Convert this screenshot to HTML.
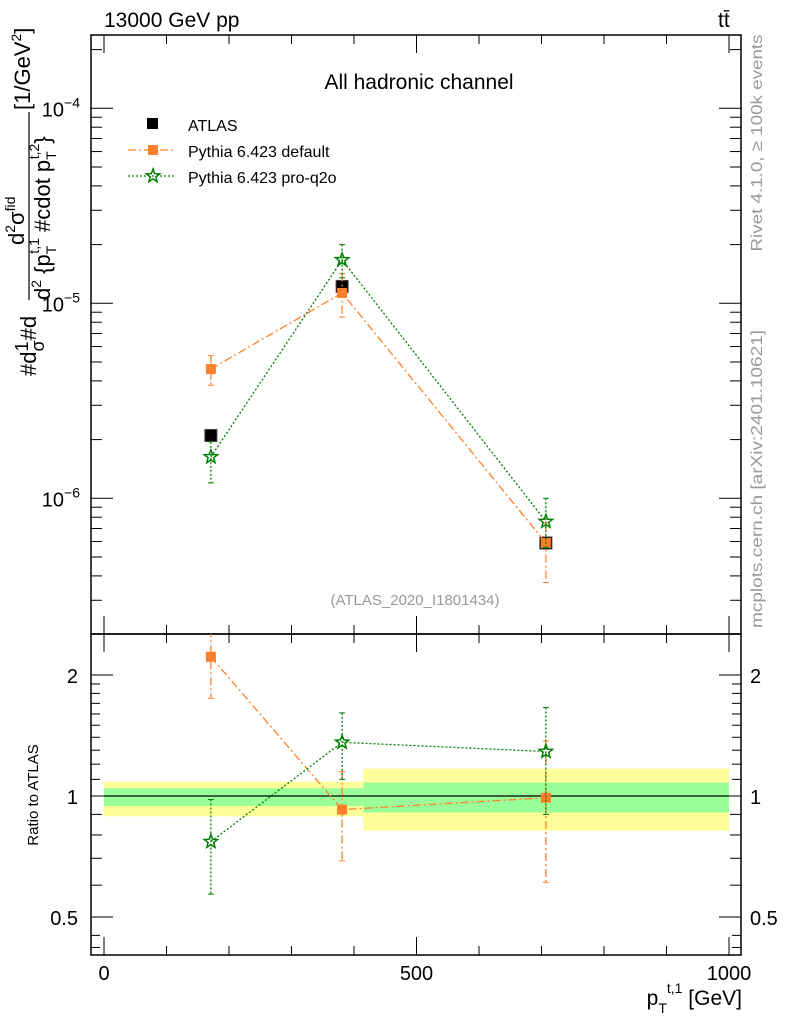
<!DOCTYPE html>
<html><head><meta charset="utf-8"><style>
body{margin:0;background:#fff;}
svg{display:block;font-family:"Liberation Sans",sans-serif;}
</style></head><body>
<svg id="chart" width="786" height="1024" viewBox="0 0 786 1024" xmlns="http://www.w3.org/2000/svg">
<g id="layer"></g>
</svg>
<script>
// ---- data ----
const xCenters = [171, 381, 707];
const binEdges = [0, 415, 1000];
const atlasVals = [2.1e-6, 1.22e-5, 5.9e-7];
const defVals = [4.6e-6, 1.13e-5, 5.9e-7];
const defErrHi = [5.4e-6, 1.42e-5, 7.5e-7];
const defErrLo = [3.8e-6, 8.5e-6, 3.7e-7];
const proVals = [1.63e-6, 1.67e-5, 7.6e-7];
const proErrHi = [1.95e-6, 2.0e-5, 1.0e-6];
const proErrLo = [1.2e-6, 1.35e-5, 5.6e-7];
const defRatio = [2.22, 0.925, 0.99];
const defRatioHi = [2.6, 1.15, 1.37];
const defRatioLo = [1.75, 0.69, 0.61];
const proRatio = [0.77, 1.36, 1.29];
const proRatioHi = [0.98, 1.61, 1.66];
const proRatioLo = [0.57, 1.1, 0.9];
const bandInnerHi = [1.045, 1.08];
const bandInnerLo = [0.945, 0.91];
const bandOuterHi = [1.085, 1.17];
const bandOuterLo = [0.89, 0.82];
const xTicks = [0, 500, 1000];
const yMainTicks = [-4, -5, -6];
const yRatioTicks = [2, 1, 0.5];

// ---- axes ----
const L=91, R=741, T=35, MB=634, RB=955;
const xs = v => 104 + v*0.625;
const ys = v => 303.3 - (Math.log10(v)+5)*195;
const yr = v => 796 - Math.log2(v)*121;

const NS="http://www.w3.org/2000/svg";
const g=document.getElementById('layer');
function el(tag, attrs, parent){const e=document.createElementNS(NS,tag);for(const k in attrs)e.setAttribute(k,attrs[k]);(parent||g).appendChild(e);return e;}
function txt(s, attrs){const e=el('text',attrs);e.textContent=s;return e;}

const defs=el('defs',{});
const c1=el('clipPath',{id:'cm'},defs);el('rect',{x:L,y:T,width:R-L,height:MB-T},c1);
const c2=el('clipPath',{id:'cr'},defs);el('rect',{x:L,y:MB,width:R-L,height:RB-MB},c2);

for(let i=0;i<2;i++){
  const b=el('rect',{x:xs(binEdges[i]),y:yr(bandOuterHi[i]),width:xs(binEdges[i+1])-xs(binEdges[i]),height:yr(bandOuterLo[i])-yr(bandOuterHi[i]),fill:'#ffff99'});
  
  
  const b2=el('rect',{x:xs(binEdges[i]),y:yr(bandInnerHi[i]),width:xs(binEdges[i+1])-xs(binEdges[i]),height:yr(bandInnerLo[i])-yr(bandInnerHi[i]),fill:'#99ff99'});
  
  
}
el('line',{x1:xs(0),x2:xs(1000),y1:yr(1),y2:yr(1),stroke:'#000','stroke-width':1.2});

for(const [t,b,n] of [[T,MB,'main-frame'],[MB,RB,'ratio-frame']]){
  const f=el('rect',{x:L,y:t,width:R-L,height:b-t,fill:'none',stroke:'#000','stroke-width':1.5});
  
  
}
for(let v=0;v<=1000;v+=100){
  const big=v%500===0, len=big?18:9;
  for(const [t,b] of [[T,MB],[MB,RB]]){
    el('line',{x1:xs(v),x2:xs(v),y1:b,y2:b-len,stroke:'#000'});
    el('line',{x1:xs(v),x2:xs(v),y1:t,y2:t+len,stroke:'#000'});
  }
}
xTicks.forEach(v=>{const t=txt(String(v),{x:xs(v),y:980,'font-size':20,'text-anchor':'middle'});
  
  });
for(let d=-7;d<=-3;d++){
  for(let m=1;m<=9;m++){
    const v=m*Math.pow(10,d), y=ys(v);
    if(y<T||y>MB)continue;
    const len=m===1?22:11;
    el('line',{x1:L,x2:L+len,y1:y,y2:y,stroke:'#000'});
    el('line',{x1:R,x2:R-len,y1:y,y2:y,stroke:'#000'});
  }
}
yMainTicks.forEach(d=>{
  const t=el('text',{x:80,y:ys(Math.pow(10,d))+8,'font-size':20,'text-anchor':'end'});
  
  
  t.innerHTML='10<tspan dy="-9" font-size="14">−'+(-d)+'</tspan>';
});
[0.5,0.6,0.7,0.8,0.9,1,2].forEach(v=>{const len=(v===1||v===2||v===0.5)?22:11;
  el('line',{x1:L,x2:L+len,y1:yr(v),y2:yr(v),stroke:'#000'});
  el('line',{x1:R,x2:R-len,y1:yr(v),y2:yr(v),stroke:'#000'});});
[1.1,1.2,1.3,1.4,1.5,1.6,1.7,1.8,1.9,0.45,0.42].forEach(v=>{
  el('line',{x1:L,x2:L+9,y1:yr(v),y2:yr(v),stroke:'#000'});
  el('line',{x1:R,x2:R-9,y1:yr(v),y2:yr(v),stroke:'#000'});});
yRatioTicks.forEach(v=>{
  const a=txt(String(v),{x:78,y:yr(v)+8,'font-size':20,'text-anchor':'end'});
  
  
  const b=txt(String(v),{x:750,y:yr(v)+8,'font-size':20});
  
  
});

function series(vals,hi,lo,ysc,color,dash,marker,clip,name){
  const grp=el('g',{'clip-path':'url(#'+clip+')'});
  
  
  const pts=vals.map((v,i)=>xs(xCenters[i])+','+ysc(v)).join(' ');
  el('polyline',{points:pts,fill:'none',stroke:color,'stroke-width':1.3,'stroke-dasharray':dash},grp);
  vals.forEach((v,i)=>{
    const x=xs(xCenters[i]);
    if(hi){el('line',{x1:x,x2:x,y1:ysc(hi[i]),y2:ysc(lo[i]),stroke:color,'stroke-width':1.3,'stroke-dasharray':dash},grp);
      el('line',{x1:x-3,x2:x+3,y1:ysc(hi[i]),y2:ysc(hi[i]),stroke:color},grp);
      el('line',{x1:x-3,x2:x+3,y1:ysc(lo[i]),y2:ysc(lo[i]),stroke:color},grp);}
    const y=ysc(v);
    if(marker==='sq') el('rect',{x:x-5,y:y-5,width:10,height:10,fill:color},grp);
    else el('polygon',{points:star(x,y,7),fill:'none',stroke:color,'stroke-width':1.5},grp);
  });
}
function star(cx,cy,r){let p=[];for(let k=0;k<10;k++){const a=-Math.PI/2+k*Math.PI/5,rr=k%2?r*0.42:r;p.push((cx+rr*Math.cos(a)).toFixed(1)+','+(cy+rr*Math.sin(a)).toFixed(1));}return p.join(' ');}

(function(){const grp=el('g',{});
  atlasVals.forEach((v,i)=>{el('rect',{x:xs(xCenters[i])-6,y:ys(v)-6,width:12,height:12,fill:'#000',stroke:'#444'},grp);});})();
series(defVals,defErrHi,defErrLo,ys,'#ff7f2a','8,3,2,3','sq','cm','default-series');
series(proVals,proErrHi,proErrLo,ys,'#008000','2,2','star','cm','pro-q2o-series');
series(defRatio,defRatioHi,defRatioLo,yr,'#ff7f2a','8,3,2,3','sq','cr','default-ratio-series');
series(proRatio,proRatioHi,proRatioLo,yr,'#008000','2,2','star','cr','pro-q2o-ratio-series');

function T2(s,a,n){const t=txt(s,a);return t;}
T2('13000 GeV pp',{x:104,y:27,'font-size':21},'beam-label');
T2('tt̄',{x:718,y:27,'font-size':21},'process-label');
T2('All hadronic channel',{x:419,y:89,'font-size':21,'text-anchor':'middle'},'channel-title');
T2('(ATLAS_2020_I1801434)',{x:415,y:605,'font-size':15,'text-anchor':'middle',fill:'#999'},'analysis-id');
el('rect',{x:147,y:118,width:11,height:11,fill:'#000'});
T2('ATLAS',{x:188,y:131,'font-size':16},'legend-atlas');
el('line',{x1:128,x2:175,y1:150,y2:150,stroke:'#ff7f2a','stroke-width':1.3,'stroke-dasharray':'8,3,2,3'});
el('rect',{x:148,y:145,width:10,height:10,fill:'#ff7f2a'});
T2('Pythia 6.423 default',{x:188,y:157,'font-size':16},'legend-default');
el('line',{x1:128,x2:175,y1:176,y2:176,stroke:'#008000','stroke-width':1.3,'stroke-dasharray':'2,2'});
el('polygon',{points:star(153,176,7),fill:'none',stroke:'#008000','stroke-width':1.5});
T2('Pythia 6.423 pro-q2o',{x:188,y:183,'font-size':16},'legend-pro-q2o');
const xt=el('text',{x:742,y:1005,'font-size':21,'text-anchor':'end'});

xt.innerHTML='p<tspan dy="8" font-size="14">T</tspan><tspan dy="-20" font-size="14">t,1</tspan><tspan dy="12"> [GeV]</tspan>';
T2('Ratio to ATLAS',{x:0,y:0,'font-size':15,'text-anchor':'middle',transform:'translate(38,795) rotate(-90)'},'ratio-y-title');
// main y title: stacked fraction look
const yg=el('g',{transform:'translate(0,0)'});

const yt1=el('text',{x:0,y:0,'font-size':22,transform:'translate(36,376) rotate(-90)'},yg);
yt1.innerHTML='#d<tspan font-size="18" dy="-8">1</tspan><tspan font-size="18" dx="-10" dy="16">σ</tspan><tspan dy="-8">#d</tspan>';
el('line',{x1:29,x2:29,y1:300,y2:112,stroke:'#000','stroke-width':1.2},yg);
const yt2=el('text',{x:0,y:0,'font-size':22,transform:'translate(24,245) rotate(-90)'},yg);
yt2.innerHTML='d<tspan font-size="14" dy="-9">2</tspan><tspan dy="9">σ</tspan><tspan font-size="14" dy="-9">fid</tspan>';
const yt3=el('text',{x:0,y:0,'font-size':22,transform:'translate(50,300) rotate(-90)'},yg);
yt3.innerHTML='d<tspan font-size="14" dy="-9">2</tspan><tspan dy="9"> {p</tspan><tspan font-size="14" dy="6">T</tspan><tspan font-size="14" dx="-8" dy="-17">t,1</tspan><tspan dy="11"> #cdot p</tspan><tspan font-size="14" dy="6">T</tspan><tspan font-size="14" dx="-8" dy="-17">t,2</tspan><tspan dy="11">}</tspan>';
const yt4=el('text',{x:0,y:0,'font-size':22,transform:'translate(30,110) rotate(-90)'},yg);
yt4.innerHTML='[1/GeV<tspan font-size="14" dy="-9">2</tspan><tspan dy="9">]</tspan>';
T2('Rivet 4.1.0, ≥ 100k events',{x:0,y:0,'font-size':16,'text-anchor':'middle',fill:'#999',textLength:217,lengthAdjust:'spacingAndGlyphs',transform:'translate(762,143) rotate(-90)'},'rivet-label');
T2('mcplots.cern.ch [arXiv:2401.10621]',{x:0,y:0,'font-size':16,'text-anchor':'middle',fill:'#999',textLength:298,lengthAdjust:'spacingAndGlyphs',transform:'translate(762,479) rotate(-90)'},'mcplots-label');
</script>
</body></html>
